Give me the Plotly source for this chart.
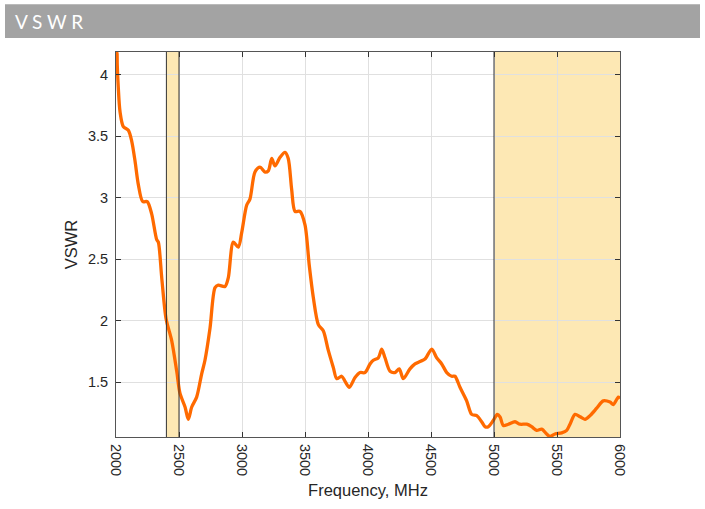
import plotly.graph_objects as go

freq_mhz = [2000, 2008, 2010, 2018, 2032, 2058, 2098, 2125, 2151, 2177, 2212, 2248, 2283, 2323,
            2336, 2363, 2397, 2442, 2482, 2508, 2548, 2574, 2601, 2640, 2680, 2706, 2746, 2786,
            2812, 2865, 2891, 2931, 2971, 2998, 3037, 3063, 3103, 3143, 3183, 3209, 3236, 3262,
            3302, 3341, 3367, 3394, 3421, 3460, 3500, 3534, 3566, 3606, 3645, 3685, 3725, 3752,
            3791, 3817, 3852, 3897, 3937, 3976, 4016, 4042, 4082, 4109, 4135, 4175, 4214, 4248,
            4280, 4333, 4373, 4413, 4452, 4506, 4545, 4585, 4625, 4664, 4690, 4730, 4783, 4823,
            4863, 4902, 4929, 4955, 4994, 5026, 5048, 5074, 5114, 5167, 5206, 5260, 5299, 5339,
            5379, 5418, 5444, 5484, 5537, 5577, 5603, 5643, 5683, 5722, 5762, 5815, 5867, 5921,
            5947, 5987, 6000]
vswr = [4.10, 4.18, 4.08, 3.90, 3.70, 3.58, 3.55, 3.46, 3.30, 3.11, 2.97, 2.97, 2.87, 2.66,
        2.64, 2.35, 2.02, 1.84, 1.59, 1.41, 1.30, 1.20, 1.30, 1.38, 1.57, 1.68, 1.94, 2.27,
        2.29, 2.28, 2.35, 2.64, 2.60, 2.72, 2.94, 2.99, 3.21, 3.25, 3.21, 3.22, 3.32, 3.26,
        3.33, 3.37, 3.32, 3.07, 2.89, 2.89, 2.78, 2.45, 2.19, 1.97, 1.92, 1.76, 1.62, 1.53,
        1.55, 1.51, 1.46, 1.54, 1.58, 1.58, 1.65, 1.68, 1.70, 1.77, 1.70, 1.59, 1.58, 1.61,
        1.53, 1.61, 1.65, 1.67, 1.69, 1.77, 1.70, 1.65, 1.58, 1.55, 1.55, 1.46, 1.35, 1.24,
        1.23, 1.18, 1.14, 1.14, 1.19, 1.24, 1.22, 1.15, 1.16, 1.18, 1.16, 1.16, 1.14, 1.11,
        1.12, 1.08, 1.06, 1.08, 1.09, 1.11, 1.16, 1.24, 1.22, 1.20, 1.23, 1.29, 1.35, 1.34,
        1.32, 1.38, 1.37]

bands = [(2400, 2500), (5000, 6000)]
x_ticks = [2000, 2500, 3000, 3500, 4000, 4500, 5000, 5500, 6000]
y_ticks = [1.5, 2, 2.5, 3, 3.5, 4]
y_tick_text = ["1.5", "2", "2.5", "3", "3.5", "4"]
x_range = [2000, 6000]
y_range = [1.056, 4.186]

L, T, W, H = 116, 52, 504, 388

fig = go.Figure()
fig.add_trace(go.Scatter(x=freq_mhz, y=vswr, mode="lines",
                         line=dict(color="#ff6a00", width=3.3, shape="spline", smoothing=0.8),
                         showlegend=False, hoverinfo="skip"))

for x0, x1 in bands:
    fig.add_shape(type="rect", xref="x", yref="y", x0=x0, x1=x1, y0=y_range[0], y1=y_range[1],
                  fillcolor="#fde8b4", line=dict(width=0), layer="below")
    for xe in (x0, x1):
        if xe < x_range[1]:
            fig.add_shape(type="line", xref="x", yref="y", x0=xe, x1=xe,
                          y0=y_range[0], y1=y_range[1],
                          line=dict(color="#333333", width=1), layer="above")

# Header bar
fig.add_shape(type="rect", xref="paper", yref="paper",
              x0=(5 - L) / W, x1=(700 - L) / W, y0=(T + H - 38) / H, y1=(T + H - 4) / H,
              fillcolor="#a3a3a3", line=dict(width=0), layer="below")
fig.add_annotation(text="V S W R", xref="paper", yref="paper",
                   x=(13 - L) / W, y=(T + H - 21) / H, xanchor="left", yanchor="middle",
                   showarrow=False, font=dict(family="Lato, DejaVu Sans", size=19, color="white"))

axis_common = dict(showline=True, linecolor="#555555", linewidth=1, mirror="ticks",
                   ticks="inside", ticklen=5, tickcolor="#333333",
                   showgrid=True, gridcolor="#e0e0e0", gridwidth=1, zeroline=False,
                   tickfont=dict(family="Liberation Sans, Arial", size=14.5, color="#262626"))

fig.update_xaxes(range=x_range, tickvals=x_ticks, ticktext=[str(v) for v in x_ticks],
                 tickangle=90, ticklabelstandoff=3,
                 title=dict(text="Frequency, MHz", standoff=9,
                            font=dict(family="Liberation Sans, Arial", size=16.5, color="#262626")),
                 **axis_common)
fig.update_yaxes(range=y_range, tickvals=y_ticks, ticktext=y_tick_text,
                 ticklabelstandoff=4,
                 title=dict(text="VSWR", standoff=6,
                            font=dict(family="Liberation Sans, Arial", size=16.5, color="#262626")),
                 **axis_common)

fig.update_layout(width=705, height=509, margin=dict(l=L, r=705 - L - W, t=T, b=509 - T - H),
                  paper_bgcolor="white", plot_bgcolor="white")

fig.write_html("out.html", config={"displayModeBar": False},
               post_script="document.body.style.margin='0';")
